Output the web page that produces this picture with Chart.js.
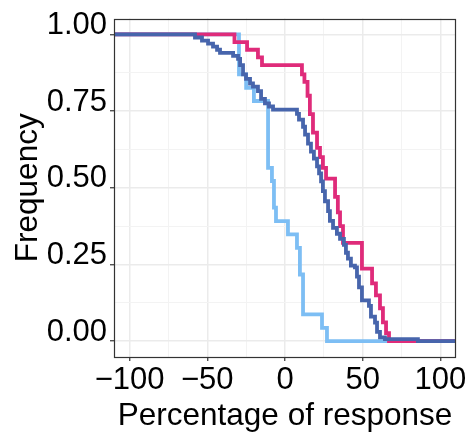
<!DOCTYPE html>
<html>
<head>
<meta charset="utf-8">
<script src="https://cdn.jsdelivr.net/npm/chart.js@4/dist/chart.umd.min.js"></script>
<style>
  html, body { margin: 0; padding: 0; background: #fff; }
  #wrap { width: 470px; height: 436px; }
</style>
</head>
<body>
<div id="wrap"><canvas id="c"></canvas></div>
<script>
// step curves: at each x the curve drops to the matching y
const darkX = [-110, -57.9, -53.4, -49.5, -46.3, -43.7, -41.8, -33.4, -30.2, -28.9, -27, -25.1, -22.5, -20.6, -17.4, -15.4, -12.9, -10.3, -7.7,
  7.7, 9.0, 11.6, 12.9, 14.8, 16.7, 18.6, 20.6, 21.9, 23.2, 24.4, 25.7, 27.7, 28.9, 30.9, 33.4, 35.4, 37.9, 39.2, 40.5, 42.4, 45.0,
  46.3, 47.6, 49.5, 54.0, 55.3, 57.9, 59.2, 61.1, 64.3, 85.5, 110];
const darkY = [1, 0.99, 0.98, 0.97, 0.96, 0.95, 0.94, 0.93, 0.92, 0.9, 0.87, 0.855, 0.84, 0.83, 0.815, 0.79, 0.775, 0.765, 0.755,
  0.741, 0.722, 0.699, 0.673, 0.644, 0.618, 0.595, 0.57, 0.547, 0.521, 0.489, 0.456, 0.424, 0.392, 0.369, 0.35, 0.333, 0.314, 0.288, 0.269, 0.246, 0.24,
  0.21, 0.175, 0.133, 0.115, 0.08, 0.06, 0.03, 0.012, 0.006, 0, 0];

const pinkX = [-110, -32.5, -24.4, -17.4, -14.8, 10.9, 12.5, 14.5, 16, 18, 20.6, 22.5, 24.4, 26.4, 32.2, 34, 35.4, 37.3,
  49.5, 56, 58.5, 61.1, 63, 65, 66.9, 110];
const pinkY = [1, 0.975, 0.95, 0.925, 0.9, 0.87, 0.845, 0.8, 0.74, 0.68, 0.63, 0.6, 0.565, 0.53, 0.47, 0.42, 0.375, 0.32,
  0.236, 0.188, 0.149, 0.107, 0.061, 0.026, 0, 0];

const lightX = [-110, -29.6, -25, -20, -10.9, -8.4, -7.1, -5.8, 1.9, 7.7, 9.6, 11.6, 23.8, 27, 110];
const lightY = [1, 0.870, 0.826, 0.783, 0.565, 0.522, 0.435, 0.391, 0.348, 0.304, 0.217, 0.087, 0.043, 0, 0];

const xTicks = [-100, -75, -50, -25, 0, 25, 50, 75, 100];
const yTicks = [0, 0.125, 0.25, 0.375, 0.5, 0.625, 0.75, 0.875, 1];

const FONT = "'Liberation Sans', Arial, Helvetica, sans-serif";
const pts = (xs, ys) => xs.map((x, i) => ({ x, y: ys[i] }));
const isMajX = v => v % 50 === 0;
const isMajY = v => Math.abs(v * 4 - Math.round(v * 4)) < 1e-9;
const fmtX = v => v < 0 ? '\u2212' + Math.abs(v) : String(v);

const line = (data, color) => ({
  data, borderColor: color, borderWidth: 3.8, pointRadius: 0, stepped: true,
  borderJoinStyle: 'miter', borderCapStyle: 'butt', fill: false,
});

// panel border on top of the lines, like ggplot
const panelBorder = {
  id: 'panelBorder',
  afterDatasetsDraw(chart) {
    const { ctx, chartArea: a } = chart;
    ctx.save();
    ctx.strokeStyle = '#333333';
    ctx.lineWidth = 1.2;
    ctx.strokeRect(Math.round(a.left) + 0.5, Math.round(a.top) + 0.5, Math.round(a.right - a.left) - 1, Math.round(a.bottom - a.top) - 1);
    ctx.restore();
  }
};

new Chart(document.getElementById('c'), {
  type: 'line',
  data: {
    datasets: [
      line(pts(darkX, darkY), '#4765AC'),
      line(pts(pinkX, pinkY), '#DF2B7A'),
      line(pts(lightX, lightY), '#7DBEF4'),
    ]
  },
  options: {
    responsive: true, maintainAspectRatio: false, animation: false, devicePixelRatio: 1,
    layout: { autoPadding: false, padding: { left: 0, right: 14, top: 16, bottom: 0 } },
    plugins: { legend: { display: false }, tooltip: { enabled: false } },
    scales: {
      x: {
        type: 'linear', min: -110, max: 110,
        afterBuildTicks: s => { s.ticks = xTicks.map(v => ({ value: v })); },
        afterFit: s => { s.height = 79; },
        border: { display: false },
        grid: {
          color: c => isMajX(c.tick.value) ? '#EBEBEB' : '#F3F3F3',
          lineWidth: c => isMajX(c.tick.value) ? 1.5 : 1,
          tickColor: c => isMajX(c.tick.value) ? '#333333' : 'rgba(0,0,0,0)',
          tickLength: 4, tickWidth: 1.2,
        },
        ticks: {
          autoSkip: false, maxRotation: 0, padding: 1, color: '#000',
          font: { family: FONT, size: 31 },
          callback: v => isMajX(v) ? fmtX(v) : '',
        },
        title: {
          display: true, text: 'Percentage of response', color: '#000',
          font: { family: FONT, size: 31.5 }, padding: { top: 0, bottom: 1 },
        },
      },
      y: {
        type: 'linear', min: -0.052, max: 1.052,
        afterBuildTicks: s => { s.ticks = yTicks.map(v => ({ value: v })); },
        afterFit: s => { s.width = 114; },
        border: { display: false },
        grid: {
          color: c => isMajY(c.tick.value) ? '#EBEBEB' : '#F3F3F3',
          lineWidth: c => isMajY(c.tick.value) ? 1.5 : 1,
          tickColor: c => isMajY(c.tick.value) ? '#333333' : 'rgba(0,0,0,0)',
          tickLength: 4, tickWidth: 1.2,
        },
        ticks: {
          autoSkip: false, padding: 3, color: '#000', labelOffset: -9,
          font: { family: FONT, size: 31, lineHeight: 1 },
          callback: v => isMajY(v) ? v.toFixed(2) : '',
        },
        title: {
          display: true, text: 'Frequency', color: '#000',
          font: { family: FONT, size: 31.5 }, padding: { top: 9, bottom: 0 },
        },
      },
    },
  },
  plugins: [panelBorder],
});
</script>
</body>
</html>
